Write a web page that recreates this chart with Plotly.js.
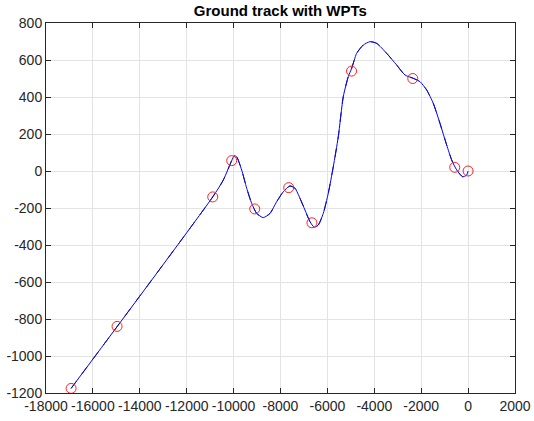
<!DOCTYPE html>
<html>
<head>
<meta charset="utf-8">
<script src="https://cdn.plot.ly/plotly-3.0.1.min.js"></script>
<style>html,body{margin:0;padding:0;background:#fff;}#plot{width:534px;height:421px;}</style>
</head>
<body>
<div id="plot"></div>
<script>
// Waypoints
var wptX = [-16930, -14970, -10890, -10080, -9100, -7650, -6660, -4970, -2360, -570, 0];
var wptY = [-1175, -840, -140, 56, -205, -90, -280, 540, 500, 20, 0];

// Flown ground track
var trackX = [-16930, -10890, -10440, -10082, -9971, -9869, -9655, -9442, -9229, -9016, -8734, -8448, -8163, -7881, -7596, -7383, -7169, -6956, -6743, -6560, -6389, -6176, -5962, -5749, -5536, -5323, -5110, -4965, -4752, -4470, -4185, -3899, -3473, -3046, -2692, -2338, -2053, -1767, -1486, -1200, -915, -702, -488, -232, -62, 0];
var trackY = [-1175, -140, -49, 56, 83, 77, 5, -93, -175, -229, -252, -229, -166, -112, -81, -93, -148, -211, -274, -304, -292, -229, -120, 23, 185, 402, 510, 555, 636, 681, 699, 690, 636, 573, 519, 501, 483, 438, 366, 258, 141, 60, 6, -31, -22, 0];

var xTicks = [-18000, -16000, -14000, -12000, -10000, -8000, -6000, -4000, -2000, 0, 2000];
var yTicks = [-1200, -1000, -800, -600, -400, -200, 0, 200, 400, 600, 800];

var traces = [
  {x: trackX, y: trackY, type: 'scatter', mode: 'lines', line: {color: '#000000', width: 0.9, dash: 'dash', shape: 'spline', smoothing: 0.6}, hoverinfo: 'skip'},
  {x: trackX, y: trackY, type: 'scatter', mode: 'lines', line: {color: '#0000ff', width: 1, shape: 'spline', smoothing: 0.6}},
  {x: wptX, y: wptY, type: 'scatter', mode: 'markers', marker: {symbol: 'circle-open', size: 10, color: '#ff2020', line: {width: 1}}}
];

var axisCommon = {
  showgrid: true, gridcolor: '#e3e3e3', gridwidth: 1,
  zeroline: false, showline: true, linecolor: '#262626', linewidth: 1,
  mirror: 'ticks', ticks: 'inside', ticklen: 5, tickcolor: '#262626',
  tickfont: {family: 'Liberation Sans, Arial, sans-serif', size: 14, color: '#262626'}
};

var layout = {
  width: 534, height: 421,
  margin: {l: 46, r: 19, t: 23, b: 28},
  paper_bgcolor: '#ffffff', plot_bgcolor: '#ffffff',
  showlegend: false,
  title: {text: '<b>Ground track with WPTs</b>', x: 0.525, xanchor: 'center', y: 1 - 11/421, yanchor: 'middle', yref: 'container',
    font: {family: 'Liberation Sans, Arial, sans-serif', size: 15, color: '#000000'}},
  xaxis: Object.assign({}, axisCommon, {range: [-18000, 2000], tickvals: xTicks, ticktext: xTicks.map(String)}),
  yaxis: Object.assign({}, axisCommon, {range: [-1200, 800], tickvals: yTicks, ticktext: yTicks.map(String)})
};

Plotly.newPlot('plot', traces, layout, {displayModeBar: false, staticPlot: true});
</script>
</body>
</html>
